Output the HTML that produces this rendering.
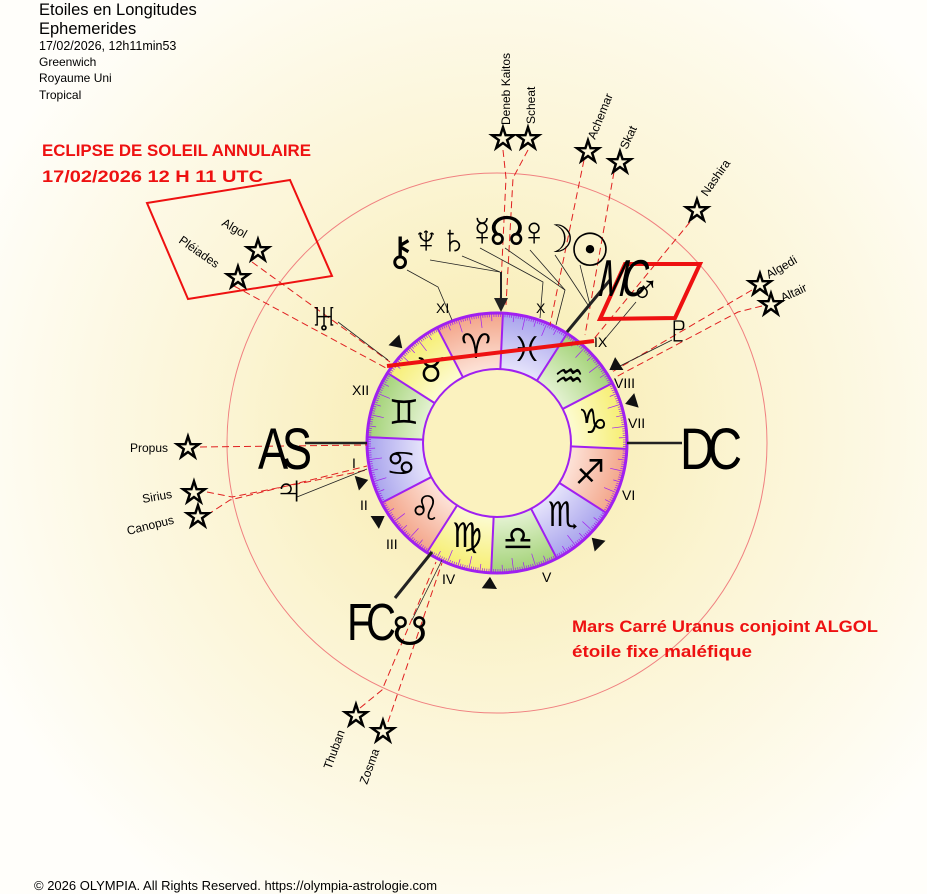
<!DOCTYPE html>
<html><head><meta charset="utf-8"><style>
html,body{margin:0;padding:0;width:927px;height:894px;overflow:hidden;background:#fffdf2}
svg{display:block}
text{font-family:"Liberation Sans","DejaVu Sans",sans-serif}
.g{font-family:"DejaVu Sans",sans-serif;fill:#000}
.r{font-size:14px;fill:#000}
.s{font-size:12px;fill:#000}
.st{font-family:"DejaVu Sans",sans-serif;font-size:32px;fill:#fff;stroke:#000;stroke-width:1.6}
.d{stroke:#e02020;stroke-width:1;stroke-dasharray:7,4;fill:none}
.k{stroke:#222;stroke-width:0.8;fill:none}
</style></head><body>
<svg id="s" width="927" height="894" viewBox="0 0 927 894" xmlns="http://www.w3.org/2000/svg">
<defs>
<radialGradient id="bg" cx="490" cy="430" r="560" gradientUnits="userSpaceOnUse">
<stop offset="0" stop-color="#f7eba8"/><stop offset="0.45" stop-color="#fbf4d2"/><stop offset="1" stop-color="#fffefa"/></radialGradient>
<radialGradient id="fire" cx="497" cy="443" r="130" gradientUnits="userSpaceOnUse"><stop offset="0.57" stop-color="#fde3d8"/><stop offset="1" stop-color="#f3a488"/></radialGradient>
<radialGradient id="earth" cx="497" cy="443" r="130" gradientUnits="userSpaceOnUse"><stop offset="0.57" stop-color="#fdfbd2"/><stop offset="1" stop-color="#f6ee70"/></radialGradient>
<radialGradient id="air" cx="497" cy="443" r="130" gradientUnits="userSpaceOnUse"><stop offset="0.57" stop-color="#e4f2d2"/><stop offset="1" stop-color="#a2d276"/></radialGradient>
<radialGradient id="water" cx="497" cy="443" r="130" gradientUnits="userSpaceOnUse"><stop offset="0.57" stop-color="#e6e4fb"/><stop offset="1" stop-color="#a7a2ec"/></radialGradient>
</defs>
<rect width="927" height="894" fill="url(#bg)"/>
<circle cx="497" cy="443" r="270" fill="none" stroke="#f08080" stroke-width="1"/>
<g id="wheel"></g>
<circle cx="497" cy="443" r="74" fill="#fbf2bf" stroke="#a020f0" stroke-width="2"/>
<circle cx="497" cy="443" r="130" fill="none" stroke="#a020f0" stroke-width="3"/>

<g class="g" font-size="34" text-anchor="middle" dominant-baseline="central">
<text x="476" y="347">♈&#xFE0E;</text><text x="431" y="371">♉&#xFE0E;</text><text x="404" y="413">♊&#xFE0E;</text>
<text x="401" y="464">♋&#xFE0E;</text><text x="425" y="509">♌&#xFE0E;</text><text x="467" y="536">♍&#xFE0E;</text>
<text x="518" y="539">♎&#xFE0E;</text><text x="563" y="515">♏&#xFE0E;</text><text x="590" y="473">♐&#xFE0E;</text>
<text x="593" y="422">♑&#xFE0E;</text><text x="569" y="377">♒&#xFE0E;</text><text x="527" y="350">♓&#xFE0E;</text>
</g>

<polyline class="d" points="503,150 506,178 500,305"/>
<polyline class="d" points="528,150 513,178 506,305"/>
<polyline class="d" points="584,160 550,325"/>
<polyline class="d" points="614,172 585,335"/>
<polyline class="d" points="690,222 593,340"/>
<polyline class="d" points="752,290 612,372"/>
<polyline class="d" points="762,306 738,312 614,378"/>
<polyline class="d" points="252,262 390,362"/>
<polyline class="d" points="234,286 386,368"/>
<polyline class="d" points="200,447 367,445"/>
<polyline class="d" points="207,492 232,497 367,470"/>
<polyline class="d" points="207,515 230,500 367,466"/>
<polyline class="d" points="360,708 382,690 436,562"/>
<polyline class="d" points="388,722 442,563"/>

<polyline class="k" points="407,270 438,287 452,320"/>
<polyline class="k" points="430,260 500,272"/>
<polyline class="k" points="462,256 500,272"/>
<line x1="501" y1="272" x2="501" y2="300" stroke="#222" stroke-width="2"/>
<polygon points="494,298 508,298 501,312" fill="#222"/>
<polyline class="k" points="480,248 543,282 540,318"/>
<polyline class="k" points="505,248 565,290 556,325"/>
<polyline class="k" points="530,250 565,290"/>
<polyline class="k" points="555,255 588,305"/>
<polyline class="k" points="580,265 590,305"/>
<polyline class="k" points="636,302 600,345"/>
<polyline class="k" points="672,340 612,370"/>
<polyline class="k" points="338,322 388,360"/>
<polyline class="k" points="297,497 367,469"/>
<polyline class="k" points="412,620 442,560"/>

<line x1="305" y1="443" x2="367" y2="443" stroke="#222" stroke-width="2.5"/>
<line x1="627" y1="443" x2="682" y2="443" stroke="#222" stroke-width="2.5"/>
<line x1="567" y1="332" x2="610" y2="280" stroke="#222" stroke-width="3"/>
<line x1="432" y1="552" x2="395" y2="598" stroke="#222" stroke-width="3"/>

<g id="tri" fill="#111"></g>

<g class="r">
<text x="436" y="313">XI</text><text x="536" y="313">X</text><text x="594" y="347">IX</text>
<text x="614" y="388">VIII</text><text x="628" y="428">VII</text><text x="622" y="500">VI</text>
<text x="542" y="582">V</text><text x="442" y="584">IV</text><text x="386" y="549">III</text>
<text x="360" y="510">II</text><text x="352" y="468">I</text><text x="352" y="395">XII</text>
</g>

<line x1="387" y1="366" x2="594" y2="341" stroke="#ee1111" stroke-width="4"/>
<polygon points="147,203 290,180 332,276 188,299" fill="none" stroke="#ee1111" stroke-width="2"/>
<polygon points="600,319 625,264 700,264 675,318" fill="none" stroke="#ee1111" stroke-width="4"/>

<g class="g" font-size="40" text-anchor="middle" dominant-baseline="central">
<text x="400" y="252">⚷</text><text x="426" y="240">♆</text><text x="454" y="240">♄</text>
<text x="482" y="232">☿</text><text x="507" y="232">☊</text><text x="534" y="232">♀</text>
<text x="557" y="240" font-size="38">☽</text><text x="590" y="250" font-size="46">☉</text>
<text x="645" y="290">♂</text><text x="679" y="330">♇</text><text x="324" y="318">♅</text>
<text x="289" y="490">♃</text><text x="410" y="632">☋</text>
</g>

<text x="258" y="469" font-size="58" transform="translate(258 469) scale(0.78 1) translate(-258 -469)" letter-spacing="-8">AS</text>
<text x="680" y="469" font-size="58" transform="translate(680 469) scale(0.82 1) translate(-680 -469)" letter-spacing="-8">DC</text>
<text x="347" y="640" font-size="52" transform="translate(347 640) scale(0.8 1) translate(-347 -640)" letter-spacing="-8">FC</text>
<text x="596" y="296" font-size="52" transform="translate(596 296) skewX(-12) scale(0.68 1) translate(-596 -296)" letter-spacing="-9">MC</text>

<g class="st" text-anchor="middle" dominant-baseline="central">
<text x="503" y="138">☆</text><text x="528" y="138">☆</text><text x="588" y="151">☆</text><text x="620" y="162">☆</text>
<text x="697" y="210">☆</text><text x="760" y="284">☆</text><text x="771" y="304">☆</text>
<text x="258" y="250">☆</text><text x="238" y="277">☆</text><text x="188" y="447">☆</text>
<text x="194" y="492">☆</text><text x="198" y="516">☆</text><text x="356" y="715">☆</text><text x="383" y="731">☆</text>
</g>
<g class="s">
<text transform="translate(510 125) rotate(-90)">Deneb Kaitos</text>
<text transform="translate(535 124) rotate(-90)">Scheat</text>
<text transform="translate(595 140) rotate(-68)">Achemar</text>
<text transform="translate(627 150) rotate(-65)">Skat</text>
<text transform="translate(707 197) rotate(-55)">Nashira</text>
<text transform="translate(769 279) rotate(-30)">Algedi</text>
<text transform="translate(783 302) rotate(-25)">Altair</text>
<text transform="translate(221 225) rotate(30)">Algol</text>
<text transform="translate(178 242) rotate(35)">Pléiades</text>
<text x="130" y="452">Propus</text>
<text transform="translate(143 503) rotate(-10)">Sirius</text>
<text transform="translate(128 535) rotate(-14)">Canopus</text>
<text transform="translate(331 770) rotate(-70)">Thuban</text>
<text transform="translate(367 785) rotate(-70)">Zosma</text>
</g>

<text x="39" y="15" font-size="16.5">Etoiles en Longitudes</text>
<text x="39" y="34" font-size="16.5">Ephemerides</text>
<text x="39" y="50" font-size="12.5">17/02/2026, 12h11min53</text>
<text x="39" y="66" font-size="12">Greenwich</text>
<text x="39" y="82" font-size="12">Royaume Uni</text>
<text x="39" y="99" font-size="12">Tropical</text>
<text x="42" y="156" font-size="17" font-weight="bold" fill="#ee1111" textLength="269" lengthAdjust="spacingAndGlyphs">ECLIPSE DE SOLEIL ANNULAIRE</text>
<text x="42" y="182" font-size="17" font-weight="bold" fill="#ee1111" textLength="221" lengthAdjust="spacingAndGlyphs">17/02/2026  12 H 11 UTC</text>
<text x="572" y="632" font-size="17" font-weight="bold" fill="#ee1111" textLength="306" lengthAdjust="spacingAndGlyphs">Mars Carré Uranus conjoint ALGOL</text>
<text x="572" y="657" font-size="17" font-weight="bold" fill="#ee1111" textLength="180" lengthAdjust="spacingAndGlyphs">étoile fixe maléfique</text>
<text x="34" y="890" font-size="13">© 2026 OLYMPIA. All Rights Reserved. https://olympia-astrologie.com</text>
</svg>
<script>
(function(){
var cx=497,cy=443,R=130,r=74,off=87.4;
var w=document.getElementById("wheel");
var el=["fire","earth","air","water"];
function P(rad,deg){var a=deg*Math.PI/180;return [cx+rad*Math.cos(a),cy-rad*Math.sin(a)];}
var h="";
for(var k=0;k<12;k++){
 var a1=k*30+off,a2=a1+30,p1=P(R,a1),p2=P(R,a2),p3=P(r,a2),p4=P(r,a1);
 h+='<path d="M'+p1+' A'+R+' '+R+' 0 0 0 '+p2+' L'+p3+' A'+r+' '+r+' 0 0 1 '+p4+' Z" fill="url(#'+el[k%4]+')"/>';
}
for(var d=0;d<360;d++){
 var L=(d%10==0)?14:(d%5==0)?8:4,q1=P(R,d+off),q2=P(R-L,d+off);
 h+='<line x1="'+q1[0]+'" y1="'+q1[1]+'" x2="'+q2[0]+'" y2="'+q2[1]+'" stroke="#a020f0" stroke-width="0.7"/>';
}
for(var k=0;k<12;k++){var a=P(R,k*30+off),b=P(r,k*30+off);
 h+='<line x1="'+a[0]+'" y1="'+a[1]+'" x2="'+b[0]+'" y2="'+b[1]+'" stroke="#a020f0" stroke-width="2"/>';}
w.innerHTML=h;
var t="",cs=[196,213,267,315,17,33,135];
cs.forEach(function(c){var tip=P(134,c),l=P(146,c+3),m=P(146,c-3);
 t+='<polygon points="'+tip+' '+l+' '+m+'"/>';});
document.getElementById("tri").innerHTML=t;
})();
</script>
</body></html>
